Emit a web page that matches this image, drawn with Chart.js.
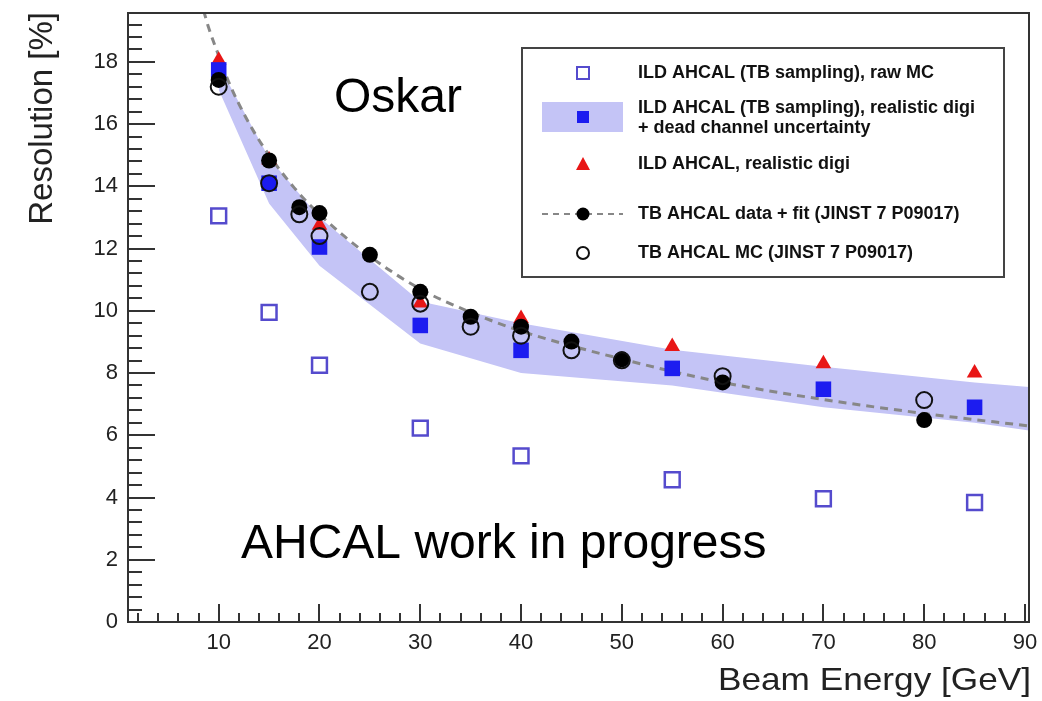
<!DOCTYPE html>
<html>
<head>
    <title>AHCAL resolution vs beam energy</title>
    <script src="https://cdn.jsdelivr.net/npm/chart.js@4.4.0/dist/chart.umd.min.js"></script>
    <style>
        body { margin: 0; background: white; }
        .wrap { width: 1042px; height: 701px; position: relative; }
    </style>
</head>
<body>
    <div class="wrap"><canvas id="resChart"></canvas></div>

    <script>
        // values
        const ildEnergy = [10, 15, 20, 30, 40, 55, 70, 85];
        const rawMC = [13.05, 9.95, 8.25, 6.23, 5.34, 4.57, 3.96, 3.84];
        const realisticDigi = [17.74, 14.1, 12.05, 9.53, 8.73, 8.15, 7.48, 6.9];
        const ildDigi = [18.05, 14.85, 12.75, 10.25, 9.75, 8.85, 8.3, 8.0];

        const bandEnergy = [10, 15, 20, 30, 40, 55, 70, 85, 90.4];
        const bandUpper = [17.9, 14.9, 13.0, 10.3, 9.6, 8.75, 8.2, 7.7, 7.55];
        const bandLower = [17.1, 13.45, 11.45, 8.95, 8.0, 7.6, 6.9, 6.4, 6.15];

        const tbEnergy = [10, 15, 18, 20, 25, 30, 35, 40, 45, 50, 60, 80];
        const tbData = [17.42, 14.83, 13.33, 13.14, 11.8, 10.61, 9.81, 9.49, 9.01, 8.44, 7.7, 6.49];
        const tbMC = [17.2, 14.1, 13.1, 12.4, 10.61, 10.23, 9.49, 9.2, 8.73, 8.41, 7.9, 7.13];

        const fitEnergy = [8.5, 9, 10, 11, 12, 13.5, 15, 17.5, 20, 25, 30, 35, 40, 50, 60, 70, 80, 90.4];
        const fitValue = [19.65, 19.1, 18.2, 17.35, 16.65, 15.75, 15.0, 13.95, 13.1, 11.75, 10.7, 9.95, 9.35, 8.45, 7.7, 7.15, 6.7, 6.3];

        const xTickLabels = [10, 20, 30, 40, 50, 60, 70, 80, 90];
        const yTickLabels = [0, 2, 4, 6, 8, 10, 12, 14, 16, 18];

        const FONT = '"Liberation Sans", Arial, Helvetica, sans-serif';
        const BLUE = 'rgb(28, 28, 240)';
        const OPEN_BLUE = 'rgb(85, 75, 205)';
        const RED = 'rgb(232, 22, 22)';
        const BAND = 'rgb(196, 196, 246)';
        const FIT = 'rgb(135, 135, 135)';

        const pts = (xs, ys) => xs.map((x, i) => ({ x: x, y: ys[i] }));

        // inward ticks, frame, legend and labels in ROOT style
        const rootStyle = {
            id: 'rootStyle',
            afterDatasetsDraw(chart) {
                const ctx = chart.ctx;
                const a = chart.chartArea;
                const xs = chart.scales.x, ys = chart.scales.y;
                ctx.save();
                ctx.strokeStyle = '#333';
                ctx.lineWidth = 2;
                ctx.strokeRect(a.left, a.top, a.right - a.left, a.bottom - a.top);

                ctx.beginPath();
                for (let v = 2; v <= 90; v += 2) {
                    const px = Math.round(xs.getPixelForValue(v));
                    const len = v % 10 === 0 ? 18 : 9;
                    ctx.moveTo(px, a.bottom);
                    ctx.lineTo(px, a.bottom - len);
                }
                for (let k = 1; k * 0.4 < ys.max; k++) {
                    const v = k * 0.4;
                    const py = Math.round(ys.getPixelForValue(v));
                    const len = k % 5 === 0 ? 27 : 14;
                    ctx.moveTo(a.left, py);
                    ctx.lineTo(a.left + len, py);
                }
                ctx.stroke();
                ctx.restore();
            },
            afterDraw(chart) {
                const ctx = chart.ctx;
                ctx.save();

                // legend box
                ctx.fillStyle = 'white';
                ctx.fillRect(522, 48, 482, 229);
                ctx.strokeStyle = '#444';
                ctx.lineWidth = 2;
                ctx.strokeRect(522, 48, 482, 229);

                const mx = 583;
                // raw MC
                ctx.strokeStyle = OPEN_BLUE;
                ctx.lineWidth = 2;
                ctx.strokeRect(mx - 6, 67, 12, 12);
                // band + square
                ctx.fillStyle = BAND;
                ctx.fillRect(542, 102, 81, 30);
                ctx.fillStyle = BLUE;
                ctx.fillRect(mx - 6, 111, 12, 12);
                // triangle
                ctx.fillStyle = RED;
                ctx.beginPath();
                ctx.moveTo(mx, 157);
                ctx.lineTo(mx + 7, 170);
                ctx.lineTo(mx - 7, 170);
                ctx.closePath();
                ctx.fill();
                // dashed fit + dot
                ctx.strokeStyle = FIT;
                ctx.setLineDash([6, 5]);
                ctx.beginPath();
                ctx.moveTo(542, 214);
                ctx.lineTo(623, 214);
                ctx.stroke();
                ctx.setLineDash([]);
                ctx.fillStyle = 'black';
                ctx.beginPath();
                ctx.arc(mx, 214, 6.5, 0, Math.PI * 2);
                ctx.fill();
                // open circle
                ctx.strokeStyle = '#111';
                ctx.beginPath();
                ctx.arc(mx, 253, 6, 0, Math.PI * 2);
                ctx.stroke();

                ctx.fillStyle = '#111';
                ctx.font = 'bold 18px ' + FONT;
                ctx.textBaseline = 'middle';
                ctx.textAlign = 'left';
                ctx.fillText('ILD AHCAL (TB sampling), raw MC', 638, 73);
                ctx.fillText('ILD AHCAL (TB sampling), realistic digi', 638, 108);
                ctx.fillText('+ dead channel uncertainty', 638, 128);
                ctx.fillText('ILD AHCAL, realistic digi', 638, 164);
                ctx.fillText('TB AHCAL data + fit (JINST 7 P09017)', 638, 214);
                ctx.fillText('TB AHCAL MC (JINST 7 P09017)', 638, 253);

                // annotations
                ctx.fillStyle = 'black';
                ctx.textBaseline = 'alphabetic';
                ctx.font = '48px ' + FONT;
                ctx.fillText('Oskar', 334, 112);
                ctx.fillText('AHCAL work in progress', 241, 558);

                // axis titles
                ctx.fillStyle = '#222';
                ctx.textAlign = 'right';
                ctx.save();
                ctx.font = '32px ' + FONT;
                ctx.translate(1031, 690);
                ctx.scale(1.1, 1);
                ctx.fillText('Beam Energy [GeV]', 0, 0);
                ctx.restore();
                ctx.font = '33px ' + FONT;
                ctx.translate(52, 12);
                ctx.rotate(-Math.PI / 2);
                ctx.fillText('Resolution [%]', 0, 0);
                ctx.restore();
            }
        };

        const chart = new Chart(document.getElementById('resChart'), {
            type: 'scatter',
            data: {
                datasets: [
                    {
                        label: 'TB AHCAL MC (JINST 7 P09017)',
                        data: pts(tbEnergy, tbMC),
                        pointStyle: 'circle',
                        pointRadius: 8,
                        borderColor: '#111',
                        borderWidth: 2,
                        backgroundColor: 'rgba(0,0,0,0)',
                        order: 1
                    },
                    {
                        label: 'TB AHCAL data',
                        data: pts(tbEnergy, tbData),
                        pointStyle: 'circle',
                        pointRadius: 8,
                        borderWidth: 0,
                        backgroundColor: 'black',
                        order: 2
                    },
                    {
                        label: 'ILD AHCAL (TB sampling), raw MC',
                        data: pts(ildEnergy, rawMC),
                        pointStyle: 'rect',
                        pointRadius: 10.5,
                        borderColor: OPEN_BLUE,
                        borderWidth: 2.5,
                        backgroundColor: 'rgba(0,0,0,0)',
                        order: 3
                    },
                    {
                        label: 'ILD AHCAL (TB sampling), realistic digi',
                        data: pts(ildEnergy, realisticDigi),
                        pointStyle: 'rect',
                        pointRadius: 11,
                        borderWidth: 0,
                        backgroundColor: BLUE,
                        order: 4
                    },
                    {
                        label: 'ILD AHCAL, realistic digi',
                        data: pts(ildEnergy, ildDigi),
                        pointStyle: 'triangle',
                        pointRadius: 9,
                        borderWidth: 0,
                        backgroundColor: RED,
                        order: 5
                    },
                    {
                        type: 'line',
                        label: 'fit',
                        data: pts(fitEnergy, fitValue),
                        borderColor: FIT,
                        borderWidth: 3,
                        borderDash: [8, 6],
                        pointRadius: 0,
                        cubicInterpolationMode: 'monotone',
                        fill: false,
                        order: 6
                    },
                    {
                        type: 'line',
                        label: 'band low',
                        data: pts(bandEnergy, bandLower),
                        borderWidth: 0,
                        pointRadius: 0,
                        fill: false,
                        order: 7
                    },
                    {
                        type: 'line',
                        label: 'dead channel uncertainty',
                        data: pts(bandEnergy, bandUpper),
                        borderWidth: 0,
                        pointRadius: 0,
                        backgroundColor: BAND,
                        fill: 6,
                        order: 8
                    }
                ]
            },
            options: {
                responsive: true,
                maintainAspectRatio: false,
                animation: false,
                events: [],
                layout: { padding: { top: 10, right: 7, left: 0, bottom: 0 } },
                plugins: {
                    legend: { display: false },
                    tooltip: { enabled: false }
                },
                scales: {
                    x: {
                        type: 'linear',
                        min: 1,
                        max: 90.4,
                        grid: { display: false, drawTicks: false },
                        border: { display: false },
                        afterBuildTicks: (s) => { s.ticks = xTickLabels.map(v => ({ value: v })); },
                        afterFit: (s) => {
                            s.height = 79;
                            s.paddingLeft = 0;
                            s.paddingRight = 0;
                        },
                        ticks: {
                            padding: 8,
                            maxRotation: 0,
                            color: '#222',
                            font: { family: FONT, size: 22 }
                        }
                    },
                    y: {
                        min: 0,
                        max: 19.57,
                        grid: { display: false, drawTicks: false },
                        border: { display: false },
                        afterBuildTicks: (s) => { s.ticks = yTickLabels.map(v => ({ value: v })); },
                        afterFit: (s) => {
                            s.width = 128;
                            s.paddingTop = 0;
                            s.paddingBottom = 0;
                        },
                        ticks: {
                            padding: 10,
                            color: '#222',
                            font: { family: FONT, size: 22 }
                        }
                    }
                }
            },
            plugins: [rootStyle]
        });
    </script>
</body>
</html>
